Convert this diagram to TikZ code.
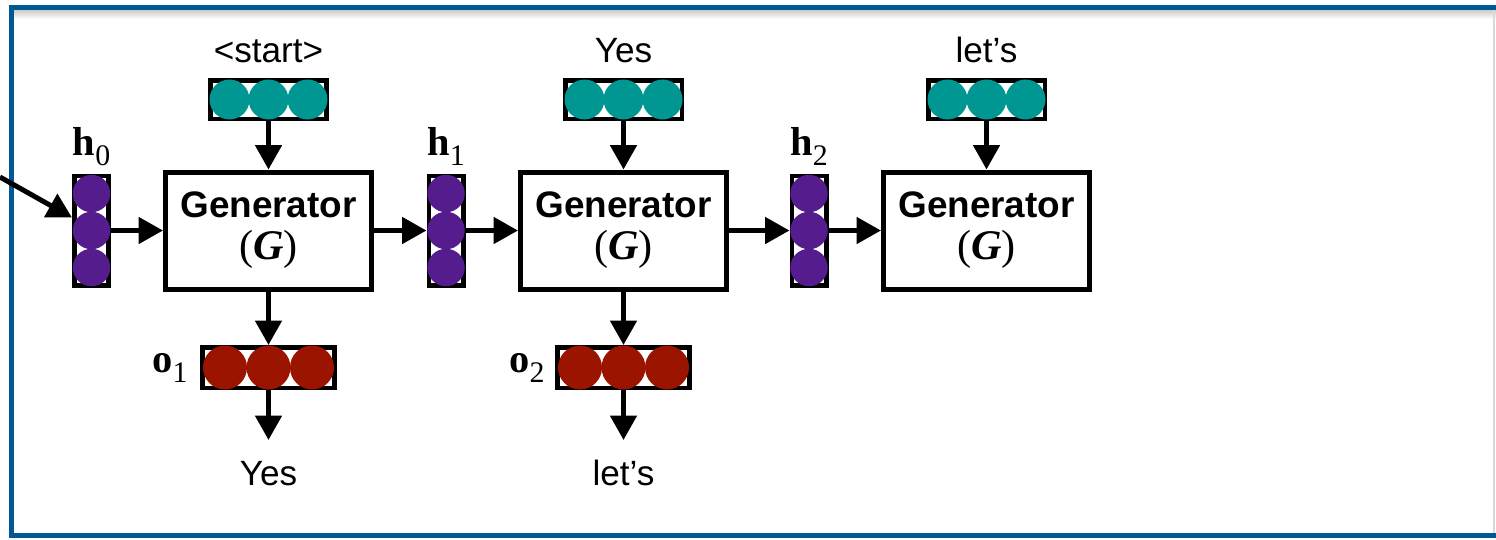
\documentclass[tikz,border=0pt]{standalone}
\usepackage{fontspec}
\setmainfont{Liberation Serif}
\setsansfont{Liberation Sans}
\usetikzlibrary{arrows.meta,calc}
\definecolor{frameblue}{RGB}{0,88,150}
\definecolor{vecteal}{RGB}{0,150,145}
\definecolor{vecpurple}{RGB}{84,28,140}
\definecolor{vecred}{RGB}{155,20,0}

\begin{document}
\begin{tikzpicture}[x=0.02cm, y=-0.02cm, >={Triangle[length=0.49cm,width=0.52cm]},
	gen/.style={draw, line width=0.1cm, fill=white, minimum width=4.12cm, minimum height=2.34cm, inner sep=0pt, align=center, font=\fontsize{24}{23.9}\selectfont},
	invec/.style={draw, line width=0.09cm, fill=white, minimum width=2.33cm, minimum height=0.77cm, inner sep=0pt},
	outvec/.style={draw, line width=0.09cm, fill=white, minimum width=2.65cm, minimum height=0.81cm, inner sep=0pt},
	hvec/.style={draw, line width=0.09cm, fill=white, minimum width=0.69cm, minimum height=2.19cm, inner sep=0pt},
	word/.style={font=\sffamily\fontsize{20}{24}\selectfont, anchor=base, inner sep=0pt},
	vname/.style={font=\fontsize{23}{26}\selectfont, anchor=base, inner sep=0pt},
	link/.style={->, line width=0.1cm}]
	\useasboundingbox (0,0) rectangle (1496,539);

	\shade[top color=black!20, bottom color=white] (14,10) rectangle (1496,19);
	\draw[black!15, line width=0.04cm] (1494,10) -- (1494,533);
	\draw[frameblue, line width=0.1cm] (1500,7.5) -- (11.5,7.5) -- (11.5,535) -- (1500,535);

	\foreach \n/\x in {1/268.5, 2/623.5, 3/986.5} {
		\node[gen] (Gen\n) at (\x,230.5) {{\sffamily\bfseries\fontsize{21}{23.9}\selectfont Generator}\\
			(\textbf{\textit{G}})};
	}

	\foreach \n/\x/\w in {1/268.5/{<start>}, 2/623.5/{Yes}, 3/986.5/{let’s}} {
		\node[invec] (In\n) at (\x,99.5) {};
		\foreach \i in {-1,0,1}
			\fill[vecteal] ($(In\n)+(\i*39,0)$) circle (0.4cm);
		\node[word] (Word\n) at (\x,62) {\w};
		\draw[link] (In\n) -- (Gen\n);
	}

	\foreach \n/\x in {0/91.5, 1/446, 2/809} {
		\node[hvec] (H\n) at (\x,230.5) {};
		\foreach \i in {-1,0,1}
			\fill[vecpurple] ($(H\n)+(0,\i*37)$) circle (0.375cm);
		\node[vname] (Hlab\n) at (\x,155) {\textbf{h}\raisebox{-0.2cm}{\fontsize{17}{17}\selectfont \n}};
	}

	\foreach \n/\x/\l/\w in {1/268.5/188/{Yes}, 2/623.5/545/{let’s}} {
		\node[outvec] (Out\n) at (\x,367.5) {};
		\foreach \i in {-1,0,1}
			\fill[vecred] ($(Out\n)+(\i*43.5,0)$) circle (0.44cm);
		\node[vname, anchor=base east] (Olab\n) at (\l,372) {\textbf{o}\raisebox{-0.2cm}{\fontsize{17}{17}\selectfont \n}};
		\coordinate (Tip\n) at (\x,440);
		\node[word] (Emit\n) at (\x,485) {\w};
		\draw[link] (Gen\n) -- (Out\n);
		\draw[link] (Out\n) -- (Tip\n);
	}

	\coordinate (Feed) at (0,177);
	\draw[link] (Feed) -- ([yshift=0.26cm]H0.west);
	\draw[link] (H0) -- (Gen1);
	\draw[link] (Gen1) -- (H1);
	\draw[link] (H1) -- (Gen2);
	\draw[link] (Gen2) -- (H2);
	\draw[link] (H2) -- (Gen3);
\end{tikzpicture}
\end{document}
